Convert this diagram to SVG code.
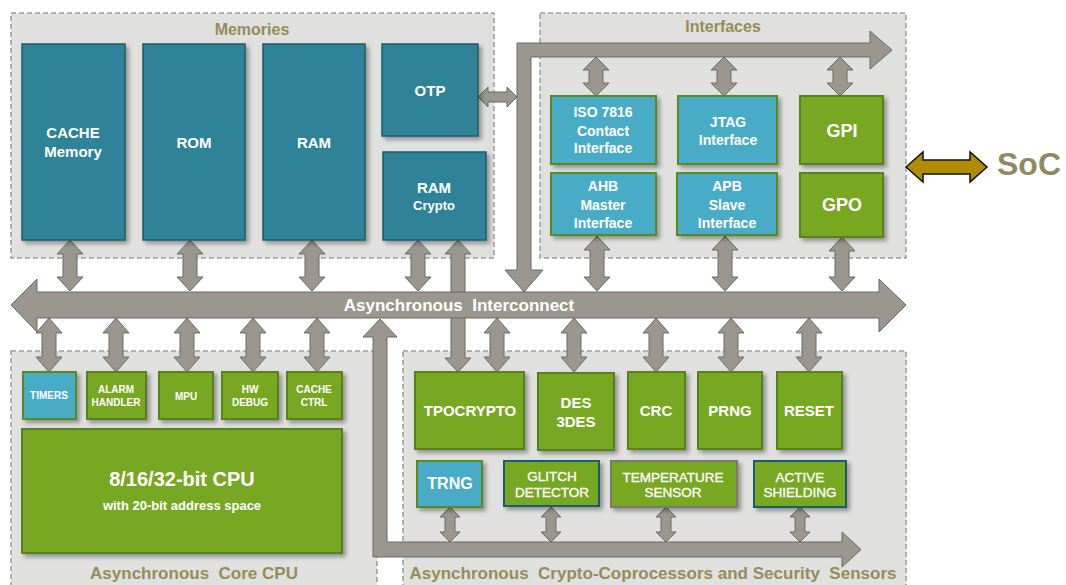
<svg xmlns="http://www.w3.org/2000/svg" width="1066" height="585" viewBox="0 0 1066 585">
<defs>
<filter id="sh" x="-10%" y="-10%" width="130%" height="130%">
<feDropShadow dx="3" dy="3" stdDeviation="2" flood-color="#000" flood-opacity="0.35"/>
</filter>
<style>
.box{fill:#e0e0de;stroke:#9c9c98;stroke-width:1.5;stroke-dasharray:5,3}
.ttl{font-family:"Liberation Sans",Arial,sans-serif;font-weight:bold;fill:#968c5a;text-anchor:middle;white-space:pre}
.arr{fill:#9b978f;stroke:#6e6a63;stroke-width:1}
.teal{fill:#2f8399;stroke:#1d5b6b;stroke-width:1.5;filter:url(#sh)}
.blue{fill:#4aacc6;stroke:#5a8a1e;stroke-width:2;filter:url(#sh)}
.grn{fill:#78a824;stroke:#55821a;stroke-width:2;filter:url(#sh)}
.grnt{fill:#78a824;stroke:#1f5a6e;stroke-width:2;filter:url(#sh)}
.grng{fill:#78a824;stroke:#7a7a6e;stroke-width:2;filter:url(#sh)}
text.w{font-family:"Liberation Sans",Arial,sans-serif;font-weight:bold;fill:#fff;text-anchor:middle}
text.n{font-family:"Liberation Sans",Arial,sans-serif;font-weight:normal;fill:#fff;text-anchor:middle;stroke:#fff;stroke-width:0.3}
</style>
</defs>
<rect width="1066" height="585" fill="#fff"/>

<g id="containers">
<rect class="box" x="11" y="13" width="483" height="245"/>
<text class="ttl" x="252" y="35" font-size="16">Memories</text>
<rect class="box" x="540" y="13" width="366" height="245"/>
<text class="ttl" x="723" y="32" font-size="16">Interfaces</text>
<rect class="box" x="11" y="351" width="366" height="240"/>
<text class="ttl" x="194" y="579" font-size="17">Asynchronous  Core CPU</text>
<rect class="box" x="403" y="351" width="503" height="240"/>
<text class="ttl" x="653" y="579" font-size="17" textLength="487">Asynchronous  Crypto-Coprocessors and Security  Sensors</text>
</g>

<g id="connectors">
<!-- memories to bus -->
<polygon class="arr" points="70,240 83,254 77,254 77,277 83,277 70,291 57,277 63,277 63,254 57,254"/>
<polygon class="arr" points="190,240 203,254 197,254 197,277 203,277 190,291 177,277 183,277 183,254 177,254"/>
<polygon class="arr" points="312,240 325,254 319,254 319,277 325,277 312,291 299,277 305,277 305,254 299,254"/>
<polygon class="arr" points="418,240 431,254 425,254 425,277 431,277 418,291 405,277 411,277 411,254 405,254"/>
<polygon class="arr" points="458,240 471,254 465,254 465,358 471,358 458,372 445,358 451,358 451,254 445,254"/>
<!-- OTP link -->
<polygon class="arr" points="478,97 488,87 488,92 507,92 507,87 517,97 507,107 507,102 488,102 488,107"/>
<!-- interfaces bus -->
<polygon class="arr" points="524,292 543,270 531,270 531,57 870,57 870,69 892,50 870,31 870,43 517,43 517,270 505,270"/>
<polygon class="arr" points="596,57 609,70 603,70 603,83 609,83 596,96 583,83 589,83 589,70 583,70"/>
<polygon class="arr" points="724,57 737,70 731,70 731,83 737,83 724,96 711,83 717,83 717,70 711,70"/>
<polygon class="arr" points="840,57 853,70 847,70 847,83 853,83 840,96 827,83 833,83 833,70 827,70"/>
<polygon class="arr" points="597,236 610,250 604,250 604,277 610,277 597,291 584,277 590,277 590,250 584,250"/>
<polygon class="arr" points="725,236 738,250 732,250 732,277 738,277 725,291 712,277 718,277 718,250 712,250"/>
<polygon class="arr" points="842,237 855,251 849,251 849,277 855,277 842,291 829,277 835,277 835,251 829,251"/>
<!-- core CPU links -->
<polygon class="arr" points="49,318 62,333 56,333 56,357 62,357 49,372 36,357 42,357 42,333 36,333"/>
<polygon class="arr" points="116,318 129,333 123,333 123,357 129,357 116,372 103,357 109,357 109,333 103,333"/>
<polygon class="arr" points="187,318 200,333 194,333 194,357 200,357 187,372 174,357 180,357 180,333 174,333"/>
<polygon class="arr" points="253,318 266,333 260,333 260,357 266,357 253,372 240,357 246,357 246,333 240,333"/>
<polygon class="arr" points="317,318 330,333 324,333 324,357 330,357 317,372 304,357 310,357 310,333 304,333"/>
<!-- crypto links -->
<polygon class="arr" points="497,318 510,333 504,333 504,357 510,357 497,372 484,357 490,357 490,333 484,333"/>
<polygon class="arr" points="574,318 587,333 581,333 581,357 587,357 574,372 561,357 567,357 567,333 561,333"/>
<polygon class="arr" points="656,318 669,333 663,333 663,357 669,357 656,372 643,357 649,357 649,333 643,333"/>
<polygon class="arr" points="731,318 744,333 738,333 738,357 744,357 731,372 718,357 724,357 724,333 718,333"/>
<polygon class="arr" points="809,318 822,333 816,333 816,357 822,357 809,372 796,357 802,357 802,333 796,333"/>
<!-- security bus -->
<polygon class="arr" points="380,319 397,337 387,337 387,542 842,542 842,532 861,549.5 842,567 842,557 373,557 373,337 363,337"/>
<polygon class="arr" points="450,507 460,517 455,517 455,532 460,532 450,542 440,532 445,532 445,517 440,517"/>
<polygon class="arr" points="551,507 561,517 556,517 556,532 561,532 551,542 541,532 546,532 546,517 541,517"/>
<polygon class="arr" points="666,507 676,517 671,517 671,532 676,532 666,542 656,532 661,532 661,517 656,517"/>
<polygon class="arr" points="800,507 810,517 805,517 805,532 810,532 800,542 790,532 795,532 795,517 790,517"/>
<!-- main bus -->
<polygon class="arr" points="11,305 37,279 37,292 879,292 879,279 906,305 879,332 879,318 37,318 37,332"/>
<text class="w" x="459" y="311" font-size="17" style="white-space:pre">Asynchronous  Interconnect</text>
<!-- SoC link -->
<polygon points="906,167 923,152 923,160 970,160 970,152 987,167 970,182 970,174 923,174 923,182" fill="#b08d00" stroke="#111" stroke-width="1.5"/>
</g>

<g id="cache"><rect class="teal" x="22" y="44" width="103" height="196"/><text class="w" x="73" y="138" font-size="15">CACHE</text><text class="w" x="73" y="157" font-size="15">Memory</text></g>
<g id="rom"><rect class="teal" x="143" y="44" width="102" height="196"/><text class="w" x="194" y="148" font-size="15">ROM</text></g>
<g id="ram"><rect class="teal" x="263" y="44" width="102" height="196"/><text class="w" x="314" y="148" font-size="15">RAM</text></g>
<g id="otp"><rect class="teal" x="382" y="44" width="96" height="92"/><text class="w" x="430" y="96" font-size="15">OTP</text></g>
<g id="ramcrypto"><rect class="teal" x="383" y="152" width="103" height="88"/><text class="w" x="434" y="193" font-size="15">RAM</text><text class="w" x="434" y="210" font-size="13">Crypto</text></g>

<g id="iso"><rect class="blue" x="551" y="96" width="105" height="68"/><text class="w" x="603" y="117" font-size="14">ISO 7816</text><text class="w" x="603" y="136" font-size="14">Contact</text><text class="w" x="603" y="153" font-size="14">Interface</text></g>
<g id="jtag"><rect class="blue" x="678" y="96" width="99" height="68"/><text class="w" x="728" y="127" font-size="14">JTAG</text><text class="w" x="728" y="145" font-size="14">Interface</text></g>
<g id="gpi"><rect class="grn" x="800" y="96" width="83" height="68"/><text class="w" x="842" y="137" font-size="18">GPI</text></g>
<g id="ahb"><rect class="blue" x="551" y="173" width="105" height="62"/><text class="w" x="603" y="191" font-size="14">AHB</text><text class="w" x="603" y="210" font-size="14">Master</text><text class="w" x="603" y="228" font-size="14">Interface</text></g>
<g id="apb"><rect class="blue" x="677" y="173" width="100" height="62"/><text class="w" x="727" y="191" font-size="14">APB</text><text class="w" x="727" y="210" font-size="14">Slave</text><text class="w" x="727" y="228" font-size="14">Interface</text></g>
<g id="gpo"><rect class="grn" x="800" y="173" width="83" height="64"/><text class="w" x="842" y="211" font-size="18">GPO</text></g>

<g id="soc"><text x="997" y="175" font-family="Liberation Sans, Arial, sans-serif" font-weight="bold" font-size="32" fill="#8f8a62">SoC</text></g>

<g id="timers"><rect class="blue" x="23" y="372" width="53" height="47"/><text class="w" x="49" y="399" font-size="10">TIMERS</text></g>
<g id="alarm"><rect class="grn" x="87" y="372" width="59" height="47"/><text class="w" x="116" y="393" font-size="10">ALARM</text><text class="w" x="116" y="406" font-size="10">HANDLER</text></g>
<g id="mpu"><rect class="grn" x="159" y="372" width="54" height="47"/><text class="w" x="186" y="400" font-size="10">MPU</text></g>
<g id="hwdebug"><rect class="grn" x="222" y="372" width="56" height="47"/><text class="w" x="250" y="393" font-size="10">HW</text><text class="w" x="250" y="406" font-size="10">DEBUG</text></g>
<g id="cachectrl"><rect class="grn" x="287" y="372" width="55" height="47"/><text class="w" x="314" y="393" font-size="10">CACHE</text><text class="w" x="314" y="406" font-size="10">CTRL</text></g>
<g id="cpu"><rect class="grn" x="22" y="429" width="320" height="124"/><text class="w" x="182" y="486" font-size="20">8/16/32-bit CPU</text><text class="w" x="182" y="510" font-size="13">with 20-bit address space</text></g>

<g id="tpocrypto"><rect class="grn" x="415" y="372" width="109" height="77"/><text class="w" x="470" y="416" font-size="15">TPOCRYPTO</text></g>
<g id="des"><rect class="grn" x="538" y="373" width="76" height="77"/><text class="w" x="576" y="408" font-size="15">DES</text><text class="w" x="576" y="427" font-size="15">3DES</text></g>
<g id="crc"><rect class="grn" x="628" y="372" width="57" height="77"/><text class="w" x="656" y="416" font-size="15">CRC</text></g>
<g id="prng"><rect class="grn" x="698" y="372" width="64" height="77"/><text class="w" x="730" y="416" font-size="15">PRNG</text></g>
<g id="reset"><rect class="grn" x="777" y="372" width="65" height="77"/><text class="w" x="809" y="416" font-size="15">RESET</text></g>
<g id="trng"><rect class="blue" x="417" y="461" width="65" height="46"/><text class="w" x="450" y="489" font-size="16">TRNG</text></g>
<g id="glitch"><rect class="grnt" x="504" y="461" width="95" height="45"/><text class="n" x="552" y="481" font-size="13.5">GLITCH</text><text class="n" x="552" y="497" font-size="13.5">DETECTOR</text></g>
<g id="temp"><rect class="grng" x="611" y="461" width="126" height="46"/><text class="n" x="673" y="482" font-size="13.5">TEMPERATURE</text><text class="n" x="673" y="497" font-size="13.5">SENSOR</text></g>
<g id="shield"><rect class="grnt" x="754" y="461" width="92" height="46"/><text class="n" x="800" y="482" font-size="13.5">ACTIVE</text><text class="n" x="800" y="497" font-size="13.5">SHIELDING</text></g>
</svg>
